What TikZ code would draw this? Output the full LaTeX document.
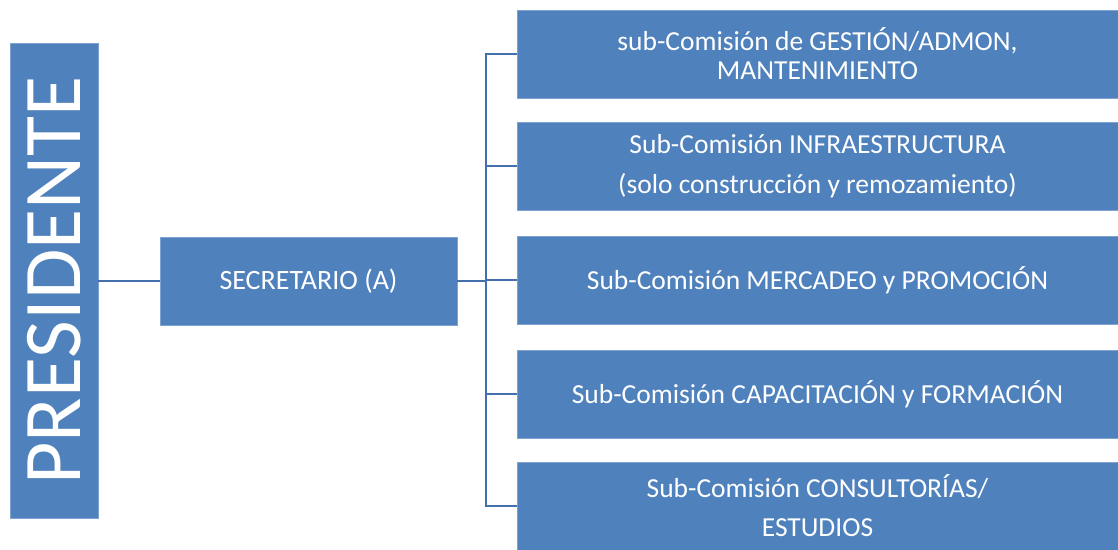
\documentclass[tikz,border=0pt]{standalone}
\usepackage{fontspec}
\setmainfont{Carlito}
\definecolor{boxblue}{HTML}{4F81BD}
\definecolor{edgeblue}{HTML}{7FA3D0}
\definecolor{lineblue}{HTML}{4370AC}
\begin{document}
\begin{tikzpicture}[x=1pt,y=-1pt,
  box/.style={fill=boxblue,draw=edgeblue,line width=0.8pt,text=white,align=center,inner sep=0pt},
  conn/.style={draw=lineblue,line width=2pt}]
\useasboundingbox (0,0) rectangle (1118,549);
\node[box,minimum width=88pt,minimum height=475pt] (pres) at (54,280.5)
  {\rotatebox{90}{\fontsize{82}{86}\selectfont PRESIDENTE}};
\node[box,minimum width=297pt,minimum height=88pt,font=\fontsize{28}{30}\selectfont] (sec) at (308.5,281) {SECRETARIO (A)};
\begin{scope}[every node/.style={box,minimum width=601pt,minimum height=88pt,font=\fontsize{27.5}{29}\selectfont}]
\node (r1) at (817.5,54) {sub-Comisión de GESTIÓN/ADMON,\\MANTENIMIENTO};
\node (r2) at (817.5,166) {Sub-Comisión INFRAESTRUCTURA\\[11pt](solo construcción y remozamiento)};
\node (r3) at (817.5,280) {Sub-Comisión MERCADEO y PROMOCIÓN};
\node (r4) at (817.5,394) {Sub-Comisión CAPACITACIÓN y FORMACIÓN};
\node (r5) at (817.5,506) {Sub-Comisión CONSULTORÍAS/\\[10pt]ESTUDIOS};
\end{scope}
\draw[conn] (pres.east |- sec.west) -- (sec.west);
\coordinate (hub) at (486,281);
\draw[conn] (sec.east) -- (hub);
\foreach \r in {r1,r2,r3,r4,r5}
  \draw[conn] (hub) |- (\r.west);
\end{tikzpicture}
\end{document}
